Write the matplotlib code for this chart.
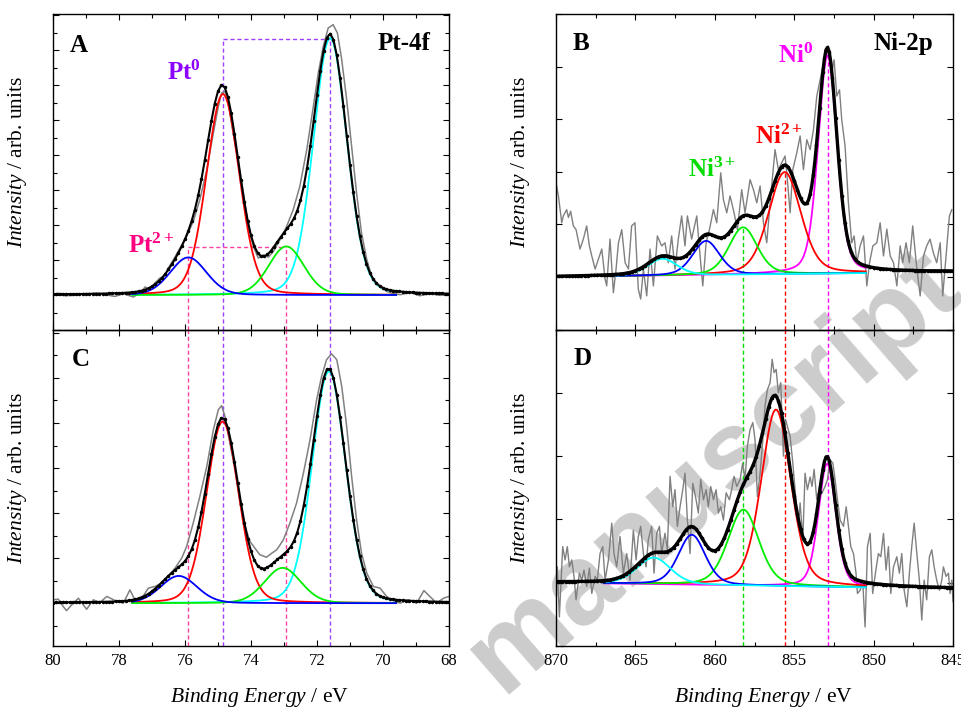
import numpy as np
import matplotlib
matplotlib.use("Agg")
import matplotlib.pyplot as plt
from matplotlib.ticker import MultipleLocator

plt.rcParams['font.family'] = ['Liberation Serif', 'DejaVu Serif']
plt.rcParams['mathtext.fontset'] = 'custom'
plt.rcParams['mathtext.rm'] = 'Liberation Serif'
plt.rcParams['mathtext.it'] = 'Liberation Serif:italic'
plt.rcParams['mathtext.bf'] = 'Liberation Serif:bold'

# ---------------- data ----------------
# Pt-4f, panel A (raw spectrum)
a_raw_e = [79.99, 79.84, 79.64, 79.28, 78.68, 78.12, 77.87, 77.57, 77.36, 77.21,
           77.06, 76.91, 76.76, 76.61, 76.51, 76.35, 76.15, 75.95, 75.75, 75.55,
           75.34, 75.14, 74.99, 74.89, 74.79, 74.69, 74.54, 74.38, 74.23, 74.08,
           73.93, 73.78, 73.63, 73.47, 73.32, 73.12, 72.92, 72.72, 72.52, 72.31,
           72.11, 71.96, 71.81, 71.66, 71.51, 71.38, 71.25, 71.10, 70.95, 70.80,
           70.65, 70.49, 70.34, 70.19, 70.04, 69.89, 69.69, 69.48, 69.18, 68.88,
           68.58, 68.27, 68.00]
a_raw_i = [0.02, 0.11, -0.04, 0.0, 0.11, -0.08, 0.08, -0.11, 0.11, 0.46,
           0.34, 0.69, 0.97, 1.10, 1.54, 2.02, 2.69, 3.35, 4.21, 5.45,
           7.16, 9.26, 10.78, 11.54, 11.64, 10.97, 9.26, 7.54, 5.83, 3.92,
           2.78, 2.11, 2.30, 2.17, 2.50, 3.16, 3.92, 4.88, 6.21, 8.30,
           10.78, 12.69, 14.21, 15.26, 15.45, 14.97, 13.45, 11.16, 8.50, 5.83,
           3.54, 2.02, 1.07, 0.59, 0.40, 0.21, 0.08, 0.02, 0.15, -0.04,
           0.08, -0.02, 0.08]

# Pt-4f, panel C (raw spectrum)
c_raw_e = [79.99, 79.84, 79.69, 79.59, 79.43, 79.23, 78.98, 78.78, 78.58, 78.37,
           78.12, 77.87, 77.67, 77.52, 77.31, 77.11, 76.91, 76.71, 76.51, 76.30,
           76.10, 75.95, 75.75, 75.55, 75.34, 75.14, 74.99, 74.89, 74.79, 74.64,
           74.48, 74.33, 74.18, 74.03, 73.88, 73.73, 73.53, 73.37, 73.22, 73.02,
           72.82, 72.62, 72.41, 72.21, 72.01, 71.86, 71.71, 71.56, 71.40, 71.25,
           71.10, 70.95, 70.80, 70.65, 70.49, 70.29, 70.09, 69.89, 69.69, 69.48,
           69.23, 68.98, 68.76, 68.58, 68.37, 68.17, 68.00]
c_raw_i = [0.15, 0.18, -0.15, -0.33, -0.07, 0.22, -0.27, 0.15, 0.03, 0.30,
           0.12, 0.0, 0.59, 0.15, 0.22, 0.67, 0.74, 0.89, 1.19, 1.56,
           2.00, 2.52, 3.56, 4.74, 6.07, 7.70, 8.59, 8.77, 8.30, 7.11,
           5.93, 4.44, 3.41, 2.74, 2.44, 2.15, 2.04, 2.22, 2.37, 2.81,
           3.56, 4.44, 5.78, 7.26, 9.04, 10.07, 10.81, 11.07, 10.81, 9.63,
           7.85, 5.63, 3.70, 2.22, 1.33, 0.74, 0.67, 0.30, 0.12, 0.0,
           0.15, 0.0, 0.56, 0.30, 0.0, 0.22, 0.30]

# Ni-2p, panel B (raw spectrum)
b_raw_e = [870.00, 869.85, 869.64, 869.54, 869.33, 869.22, 869.08, 868.91, 868.74, 868.49,
           868.28, 868.07, 867.90, 867.75, 867.54, 867.33, 867.12, 866.91, 866.81, 866.60,
           866.39, 866.22, 866.07, 865.86, 865.65, 865.44, 865.24, 865.03, 864.82, 864.67,
           864.50, 864.29, 864.08, 863.87, 863.62, 863.35, 863.14, 862.93, 862.72, 862.51,
           862.30, 862.09, 861.88, 861.73, 861.46, 861.14, 860.93, 860.76, 860.55, 860.34,
           860.09, 859.88, 859.63, 859.46, 859.25, 859.04, 858.79, 858.58, 858.31, 858.10,
           857.78, 857.57, 857.36, 857.15, 856.94, 856.73, 856.52, 856.21, 856.00, 855.79,
           855.58, 855.47, 855.26, 855.09, 854.84, 854.63, 854.42, 854.21, 854.00, 853.79,
           853.58, 853.37, 853.16, 852.99, 852.85, 852.64, 852.49, 852.32, 852.15, 852.01,
           851.80, 851.59, 851.38, 851.23, 851.06, 850.85, 850.64, 850.43, 850.26, 850.05,
           849.80, 849.59, 849.38, 849.17, 848.96, 848.75, 848.54, 848.33, 848.17, 847.96,
           847.75, 847.54, 847.28, 847.07, 846.86, 846.66, 846.45, 846.24, 846.03, 845.81,
           845.65, 845.44, 845.23, 845.08]
b_raw_i = [1.79, 1.54, 1.03, 1.16, 1.28, 1.13, 1.25, 0.97, 0.90, 0.53,
           0.72, 0.97, 0.59, 0.40, 0.15, 0.34, 0.53, -0.04, -0.17, 0.72,
           -0.30, 0.15, 0.65, 0.90, 0.27, 0.15, 0.97, 1.03, -0.23, -0.42,
           0.15, -0.36, 0.53, -0.17, 0.78, 0.59, 0.65, 0.27, 0.78, 0.15,
           0.72, 1.16, 0.59, 1.16, 0.72, 1.16, 0.40, -0.17, 0.65, 0.90,
           1.28, 1.03, 1.98, 1.47, 1.22, 1.54, 1.22, 0.90, 1.66, 1.22,
           1.85, 1.66, 1.41, 1.73, 1.03, 0.65, 1.41, 2.42, 2.04, 2.17,
           2.30, 1.98, 1.22, 2.04, 2.36, 2.68, 2.04, 2.61, 2.42, 2.80,
           3.44, 3.75, 4.07, 4.20, 4.39, 3.88, 4.13, 3.44, 3.56, 2.99,
           2.49, 1.41, 0.65, 0.78, 0.27, 0.59, 0.78, -0.17, 0.27, 0.59,
           0.65, 1.03, 0.40, 0.91, 0.40, 0.27, -0.17, 0.59, 0.27, 0.65,
           0.27, 0.97, 0.15, -0.36, 0.40, 0.59, 0.72, 0.46, 0.27, 0.65,
           -0.36, 0.40, 1.16, 1.28]

# Ni-2p, panel D (raw spectrum)
d_raw_e = [870.00, 869.92, 869.79, 869.58, 869.43, 869.29, 869.16, 869.01, 868.87, 868.74,
           868.53, 868.38, 868.24, 868.07, 867.90, 867.75, 867.54, 867.40, 867.23, 867.06,
           866.91, 866.70, 866.49, 866.35, 866.18, 865.97, 865.76, 865.55, 865.34, 865.13,
           864.96, 864.82, 864.67, 864.50, 864.33, 864.19, 863.98, 863.83, 863.66, 863.49,
           863.35, 863.14, 862.99, 862.82, 862.65, 862.51, 862.36, 862.19, 862.02, 861.88,
           861.73, 861.56, 861.39, 861.18, 861.04, 860.89, 860.72, 860.55, 860.41, 860.26,
           860.09, 859.92, 859.78, 859.63, 859.46, 859.29, 859.08, 858.94, 858.79, 858.62,
           858.41, 858.25, 858.10, 857.95, 857.78,
           857.61, 857.47, 857.32, 857.15, 856.98, 856.84, 856.69, 856.52, 856.39, 856.27,
           856.14, 856.00, 855.85, 855.68, 855.55, 855.43, 855.26, 855.09, 854.88, 854.74,
           854.63, 854.46, 854.32, 854.17, 854.00, 853.88, 853.75, 853.58, 853.41, 853.27,
           853.06, 852.91, 852.74, 852.57, 852.43, 852.28, 852.11, 851.90, 851.73, 851.59,
           851.44, 851.27, 851.11, 851.02, 850.85, 850.69, 850.54, 850.39, 850.22, 850.06,
           849.89, 849.70, 849.55, 849.38, 849.22, 849.07, 848.92, 848.75, 848.54, 848.38,
           848.23, 848.08, 847.91, 847.75, 847.60, 847.45, 847.28, 847.12, 846.97, 846.82,
           846.66, 846.49, 846.34, 846.19, 846.03, 845.86, 845.71, 845.61, 845.44, 845.29,
           845.19, 845.08, 845.00]
d_raw_i = [0.04, 0.25, -0.54, 0.57, 0.36, 0.57, 0.25, 0.36, 0.10, -0.27,
           0.15, 0.04, 0.20, -0.06, 0.23, -0.17, 0.10, 0.04, 0.46, 0.57,
           0.04, 0.36, 0.94, 0.46, 0.25, 0.73, 0.15, 0.46, 0.04, 0.83,
           0.36, 0.73, 0.89, 0.46, 0.25, 0.68, 0.89, 0.15, 0.78, 0.89,
           0.46, 0.78, 0.52, 1.68, 1.20, 1.47, 0.89, 1.20, 1.47, 1.73,
           0.99, 0.46, 1.57, 1.31, 1.10, 1.63, 1.31, 1.47, 1.20, 1.52,
           1.31, 1.47, 1.10, 1.20, 0.99, 1.42, 1.31, 1.47, 1.68, 1.52,
           1.63, 1.89, 1.63, 2.16, 2.42,
           2.53, 2.26, 1.36, 1.73, 2.26, 2.79, 3.05, 3.16, 3.53, 3.32,
           3.37, 3.00, 3.16, 2.00, 2.58, 2.47, 2.31, 1.89, 1.26, 0.89,
           1.26, 0.68, 1.73, 1.47, 1.67, 1.52, 1.79, 1.31, 1.52, 1.41,
           1.52, 1.63, 1.94, 1.89, 1.63, 1.31, 0.99, 0.89, 1.20, 0.89,
           0.57, 0.46, 0.15, -0.17, -0.12, 0.04, -0.70, 0.57, 0.78, -0.17,
           0.15, 0.46, 0.41, 0.78, 0.20, 0.57, -0.17, 0.25, 0.41, 0.15,
           0.46, -0.12, -0.38, 0.15, 0.57, 0.94, 0.46, 0.04, -0.59, 0.04,
           -0.27, 0.41, 0.52, 0.25, 0.04, -0.12, 0.04, 0.25, 0.10, 0.15,
           -0.17, 0.04, -0.30]

# fitted components: centre (eV), height, FWHM (eV); drawn in this order
pt_colors = ['#00ffff', '#ff0000', '#00ee00', '#0000ff']
a_center = [71.60, 74.85, 72.93, 75.90]
a_height = [14.69, 11.49, 2.78, 2.15]
a_fwhm = [1.20, 1.17, 1.26, 1.30]

c_center = [71.64, 74.86, 73.04, 76.19]
c_height = [10.30, 8.07, 1.57, 1.21]
c_fwhm = [1.20, 1.15, 1.30, 1.30]

ni_colors = ['#ff00ff', '#ff0000', '#00ee00', '#0000ff', '#00ffff']
b_center = [852.90, 855.60, 858.22, 860.55, 863.30]
b_height = [4.15, 1.94, 0.90, 0.65, 0.32]
b_fwhm = [1.4, 2.4, 2.1, 2.0, 2.2]
b_bg = [0.0, 0.095]   # background at 870 eV and 845 eV

d_center = [852.93, 856.15, 858.20, 861.45, 863.85]
d_height = [1.95, 2.79, 1.20, 0.79, 0.42]
d_fwhm = [1.3, 2.2, 2.3, 2.0, 2.5]
d_bg = [0.0, -0.095]

# marker positions
pt0_lines = [74.85, 71.60]
pt2_lines = [75.90, 72.93]
pt0_top = 14.65
pt2_top = 2.74
ni_lines = [858.20, 855.60, 852.90]
ni_line_colors = ['#00dd00', '#ff0000', '#ff00ff']
b_line_tops = [0.93, 1.99, 4.22]


def pvoigt(x, c, h, w, eta=0.15):
    s = w / 2.3548
    g = np.exp(-0.5 * ((x - c) / s) ** 2)
    lo = 1.0 / (1.0 + ((x - c) / (w / 2.0)) ** 2)
    return h * ((1 - eta) * g + eta * lo)


def style(ax, xlim, ylim, xmaj, xmin, ymaj, ymin, xlabels):
    ax.set_xlim(*xlim)
    ax.set_ylim(*ylim)
    ax.set_facecolor('none')
    ax.xaxis.set_major_locator(MultipleLocator(xmaj))
    ax.xaxis.set_minor_locator(MultipleLocator(xmin))
    ax.yaxis.set_major_locator(MultipleLocator(ymaj))
    if ymin:
        ax.yaxis.set_minor_locator(MultipleLocator(ymin))
    ax.tick_params(which='both', direction='in', top=True, right=True, width=0.8)
    ax.tick_params(which='major', length=4.5, labelsize=12, pad=5)
    ax.tick_params(which='minor', length=3)
    ax.set_yticklabels([])
    if not xlabels:
        ax.set_xticklabels([])
    for sp in ax.spines.values():
        sp.set_linewidth(1.0)
    ax.set_ylabel(r'$\mathit{Intensity}$ / arb. units', fontsize=15.5)
    ax.yaxis.set_label_coords(-0.06, 0.53)
    if xlabels:
        ax.set_xlabel(r'$\mathit{Binding\ Energy}$ / eV', fontsize=15.5)
        ax.xaxis.set_label_coords(0.522, -0.125)


def draw_pt(ax, raw_e, raw_i, cen, hei, fw):
    x = np.linspace(80, 68, 121)
    xc = np.linspace(77.6, 69.6, 161)
    ax.plot(raw_e, raw_i, color='#808080', lw=1.1, zorder=2)
    for c, h, w, col in zip(cen, hei, fw, pt_colors):
        ax.plot(xc, pvoigt(xc, c, h, w), color=col, lw=1.3, zorder=3)
    env = sum(pvoigt(x, c, h, w) for c, h, w in zip(cen, hei, fw))
    ax.plot(x, env, color='black', lw=1.5, marker='o', ms=1.5, zorder=4)


def draw_ni(ax, raw_e, raw_i, cen, hei, fw, bg):
    x = np.linspace(870, 845, 251)
    xc = np.linspace(867, 850.5, 166)
    bgx = np.interp(x, [845, 870], [bg[1], bg[0]])
    bgc = np.interp(xc, [845, 870], [bg[1], bg[0]])
    ax.plot(raw_e, raw_i, color='#808080', lw=1.0, zorder=2)
    for c, h, w, col in zip(cen, hei, fw, ni_colors):
        ax.plot(xc, bgc + pvoigt(xc, c, h, w, 0.3), color=col, lw=1.3, zorder=3)
    env = bgx + sum(pvoigt(x, c, h, w, 0.3) for c, h, w in zip(cen, hei, fw))
    ax.plot(x, env, color='black', lw=2.4, zorder=4)
    ax.plot(x[::2], env[::2], 'o', color='black', ms=1.6, zorder=4)


fig = plt.figure(figsize=(9.62, 7.07), dpi=100)

# watermark behind the panels
fig.text(0.742, 0.333, 'manuscript', rotation=41, fontsize=82, color='#cccccc',
         fontweight='bold', family='Liberation Sans', ha='center', va='center',
         zorder=-5)

axA = fig.add_axes([0.0551, 0.5339, 0.4116, 0.4463])
axC = fig.add_axes([0.0551, 0.0863, 0.4116, 0.4476])
axB = fig.add_axes([0.578, 0.5339, 0.4127, 0.4463])
axD = fig.add_axes([0.578, 0.0863, 0.4127, 0.4476])

dash = (0, (3, 2))

# ---- A ----
draw_pt(axA, a_raw_e, a_raw_i, a_center, a_height, a_fwhm)
for xv in pt0_lines:
    axA.plot([xv, xv], [-2, pt0_top], color='#a040ff', lw=1, ls=dash, zorder=1)
axA.plot(pt0_lines, [pt0_top, pt0_top], color='#a040ff', lw=1, ls=dash, zorder=1)
for xv in pt2_lines:
    axA.plot([xv, xv], [-2, pt2_top], color='#ff40a0', lw=1, ls=dash, zorder=1)
axA.plot(pt2_lines, [pt2_top, pt2_top], color='#ff40a0', lw=1, ls=dash, zorder=1)
style(axA, (80, 68), (-1.97, 16.06), 2, 1, 2, 1, False)
axA.text(0.043, 0.88, 'A', transform=axA.transAxes, fontsize=18, fontweight='bold')
axA.text(0.952, 0.886, 'Pt-4f', transform=axA.transAxes, fontsize=18,
         fontweight='bold', ha='right')
axA.text(0.288, 0.791, r'Pt$^{\mathbf{0}}$', transform=axA.transAxes, fontsize=18,
         fontweight='bold', color='#8c00ff')
axA.text(0.189, 0.2425, r'Pt$^{\mathbf{2+}}$', transform=axA.transAxes, fontsize=18,
         fontweight='bold', color='#ff0080')

# ---- C ----
draw_pt(axC, c_raw_e, c_raw_i, c_center, c_height, c_fwhm)
for xv in pt0_lines:
    axC.axvline(xv, color='#a040ff', lw=1, ls=dash, zorder=1)
for xv in pt2_lines:
    axC.axvline(xv, color='#ff40a0', lw=1, ls=dash, zorder=1)
style(axC, (80, 68), (-1.9, 12.15), 2, 1, 2, 1, True)
axC.text(0.048, 0.885, 'C', transform=axC.transAxes, fontsize=18, fontweight='bold')

# ---- B ----
draw_ni(axB, b_raw_e, b_raw_i, b_center, b_height, b_fwhm, b_bg)
for xv, col, top in zip(ni_lines, ni_line_colors, b_line_tops):
    axB.plot([xv, xv], [-1, top], color=col, lw=1, ls=dash, zorder=1)
style(axB, (870, 845), (-1, 5), 5, 2.5, 1, None, False)
axB.text(0.043, 0.886, 'B', transform=axB.transAxes, fontsize=18, fontweight='bold')
axB.text(0.95, 0.886, 'Ni-2p', transform=axB.transAxes, fontsize=18,
         fontweight='bold', ha='right')
axB.text(0.559, 0.846, r'Ni$^{\mathbf{0}}$', transform=axB.transAxes, fontsize=18,
         fontweight='bold', color='#ff00ff')
axB.text(0.501, 0.588, r'Ni$^{\mathbf{2+}}$', transform=axB.transAxes, fontsize=18,
         fontweight='bold', color='#ff0000')
axB.text(0.332, 0.482, r'Ni$^{\mathbf{3+}}$', transform=axB.transAxes, fontsize=18,
         fontweight='bold', color='#00dd00')

# ---- D ----
draw_ni(axD, d_raw_e, d_raw_i, d_center, d_height, d_fwhm, d_bg)
for xv, col in zip(ni_lines, ni_line_colors):
    axD.axvline(xv, color=col, lw=1, ls=dash, zorder=1)
style(axD, (870, 845), (-1, 4), 5, 2.5, 1, None, True)
axD.text(0.043, 0.888, 'D', transform=axD.transAxes, fontsize=18, fontweight='bold')

fig.savefig('out.png', dpi=100)
